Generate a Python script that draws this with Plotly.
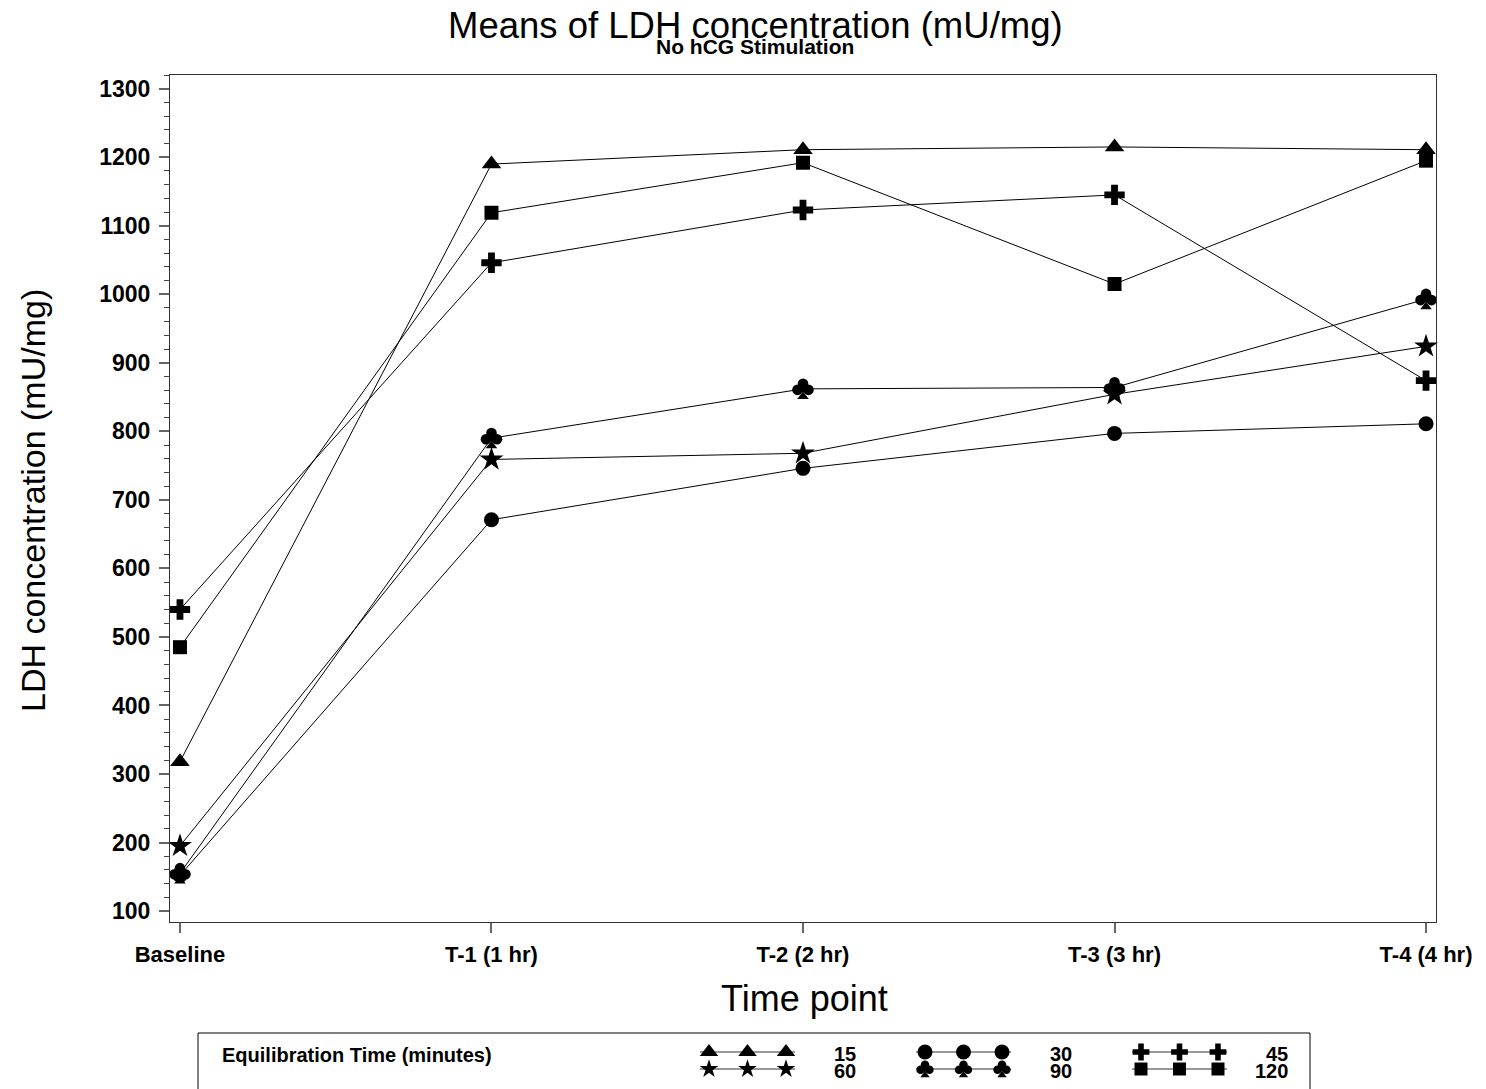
import plotly.graph_objects as go

# ---- data -------------------------------------------------------------
time_points = ["Baseline", "T-1 (1 hr)", "T-2 (2 hr)", "T-3 (3 hr)", "T-4 (4 hr)"]
eq_labels = ["15", "30", "45", "60", "90", "120"]
ldh_15 = [318, 1190, 1211, 1215, 1211]
ldh_30 = [152, 671, 746, 797, 811]
ldh_45 = [540, 1046, 1123, 1145, 874]
ldh_60 = [195, 759, 768, 854, 924]
ldh_90 = [155, 790, 862, 864, 993]
ldh_120 = [485, 1119, 1192, 1015, 1195]
y_ticks = list(range(100, 1301, 100))

series = [ldh_15, ldh_30, ldh_45, ldh_60, ldh_90, ldh_120]
# marker style per equilibration time ("club" is built from several markers)
symbols = ["triangle-up", "circle", "cross", "star", "club", "square"]
sizes = [17, 15, 17, 18, 1.12, 14]
legend_sizes = [16, 15, 14, 14, 0.9, 13]

W, H = 1486, 1089
def px(x):
    return x / W
def py(y):
    return 1 - y / H

FONT = "Liberation Sans, Arial, sans-serif"
x_idx = list(range(len(time_points)))

# main plot geometry (pixels) and axis ranges
PL, PR, PT, PB = 170, 1436, 75, 922
X_RANGE = [-0.032, 4.032]
Y_RANGE = [84, 1320]
kx_main = (X_RANGE[1] - X_RANGE[0]) / (PR - PL)     # data units per pixel
ky_main = -(Y_RANGE[1] - Y_RANGE[0]) / (PB - PT)    # screen-down pixel -> data

# club glyph: (dx, dy) screen-pixel offsets, marker symbol, size
CLUB_PARTS = [
    (0.0, -4.6, "circle", 9.5),
    (-4.9, 0.9, "circle", 9.5),
    (4.9, 0.9, "circle", 9.5),
    (0.0, 0.0, "circle", 6.0),
    (0.0, 6.8, "triangle-up", 9.0),
]

def add_club(fig, xs, ys, kx, ky, scale, xaxis="x", yaxis="y"):
    for dx, dy, sym, sz in CLUB_PARTS:
        fig.add_trace(go.Scatter(
            x=[v + dx * scale * kx for v in xs],
            y=[v + dy * scale * ky for v in ys],
            mode="markers",
            marker=dict(symbol=sym, size=sz * scale, color="black", line=dict(width=0)),
            xaxis=xaxis, yaxis=yaxis, showlegend=False, hoverinfo="skip",
            cliponaxis=False))

fig = go.Figure()

for vals, sym, sz, lab in zip(series, symbols, sizes, eq_labels):
    if sym == "club":
        fig.add_trace(go.Scatter(
            x=x_idx, y=vals, mode="lines", line=dict(color="black", width=1),
            name=lab, showlegend=False, cliponaxis=False))
        add_club(fig, x_idx, vals, kx_main, ky_main, sz)
    else:
        fig.add_trace(go.Scatter(
            x=x_idx, y=vals, mode="lines+markers",
            marker=dict(symbol=sym, size=sz, color="black", line=dict(width=0)),
            line=dict(color="black", width=1), name=lab, showlegend=False,
            cliponaxis=False))

# ---- custom legend drawn on its own pixel-scaled axes ------------------
row_y = [1052, 1069]
col_x = [709, 925, 1141]
offsets = [0, 38.5, 77]
for i, (sym, sz, lab) in enumerate(zip(symbols, legend_sizes, eq_labels)):
    r, c = divmod(i, 3)
    base = col_x[c]
    yy = row_y[r]
    fig.add_trace(go.Scatter(
        x=[base - 9, base + 86], y=[yy, yy], mode="lines",
        line=dict(color="#333333", width=1), xaxis="x2", yaxis="y2",
        showlegend=False, hoverinfo="skip"))
    xs = [base + o for o in offsets]
    if sym == "club":
        add_club(fig, xs, [yy] * 3, 1.0, 1.0, sz, xaxis="x2", yaxis="y2")
    else:
        fig.add_trace(go.Scatter(
            x=xs, y=[yy] * 3, mode="markers",
            marker=dict(symbol=sym, size=sz, color="black", line=dict(width=0)),
            xaxis="x2", yaxis="y2", showlegend=False, hoverinfo="skip",
            cliponaxis=False))
    fig.add_annotation(x=px(base + 149), y=py(yy + 2), xref="paper", yref="paper",
                       text=f"<b>{lab}</b>", showarrow=False, xanchor="right",
                       yanchor="middle",
                       font=dict(family=FONT, size=20, color="black"))

fig.add_annotation(x=px(220), y=py(1055), xref="paper", yref="paper",
                   text="<b>Equilibration Time (minutes)</b>", showarrow=False,
                   xanchor="left", yanchor="middle",
                   font=dict(family=FONT, size=20, color="black"))

fig.add_shape(type="rect", xref="paper", yref="paper",
              x0=px(198), x1=px(1310), y0=py(1100), y1=py(1033),
              line=dict(color="black", width=1))

# ---- titles -------------------------------------------------------------
fig.add_annotation(x=px(755), y=py(26), xref="paper", yref="paper",
                   text="Means of LDH concentration (mU/mg)", showarrow=False,
                   xanchor="center", yanchor="middle",
                   font=dict(family=FONT, size=36.5, color="black"))
fig.add_annotation(x=px(755), y=py(47), xref="paper", yref="paper",
                   text="<b>No hCG Stimulation</b>", showarrow=False,
                   xanchor="center", yanchor="middle",
                   font=dict(family=FONT, size=21, color="black"))
fig.add_annotation(x=px(804), y=py(998), xref="paper", yref="paper",
                   text="Time point", showarrow=False,
                   xanchor="center", yanchor="middle",
                   font=dict(family=FONT, size=36, color="black"))
fig.add_annotation(x=px(33), y=py(501), xref="paper", yref="paper",
                   text="LDH concentration (mU/mg)", showarrow=False, textangle=-90,
                   xanchor="center", yanchor="middle",
                   font=dict(family=FONT, size=34, color="black"))

axis_line = dict(showline=True, linecolor="#333333", linewidth=1, mirror=True,
                 showgrid=False, zeroline=False, automargin=False)

fig.update_layout(
    width=W, height=H, template="none",
    margin=dict(l=0, r=0, t=0, b=0),
    paper_bgcolor="white", plot_bgcolor="white",
    showlegend=False,
    xaxis=dict(domain=[px(PL), px(PR)], range=X_RANGE,
               tickvals=x_idx, ticktext=[f"<b>{t}</b>" for t in time_points],
               ticks="outside", ticklen=10, tickcolor="#666666", tickwidth=1.5,
               ticklabelstandoff=3,
               tickfont=dict(family=FONT, size=22, color="black"),
               anchor="y", **axis_line),
    yaxis=dict(domain=[py(PB), py(PT)], range=Y_RANGE,
               tickvals=y_ticks, ticktext=[f"<b>{v}</b>" for v in y_ticks],
               ticks="outside", ticklen=10, tickcolor="#666666", tickwidth=1.5,
               ticklabelstandoff=4,
               minor=dict(dtick=20, tick0=100, ticks="outside", ticklen=5,
                          tickcolor="#444444", tickwidth=1, showgrid=False),
               tickfont=dict(family=FONT, size=23, color="black"),
               anchor="x", **axis_line),
    xaxis2=dict(domain=[0, 1], range=[0, W], visible=False, anchor="y2",
                fixedrange=True),
    yaxis2=dict(domain=[0, py(1033)], range=[H, 1033], visible=False,
                anchor="x2", fixedrange=True),
)

fig.write_html("out.html")
